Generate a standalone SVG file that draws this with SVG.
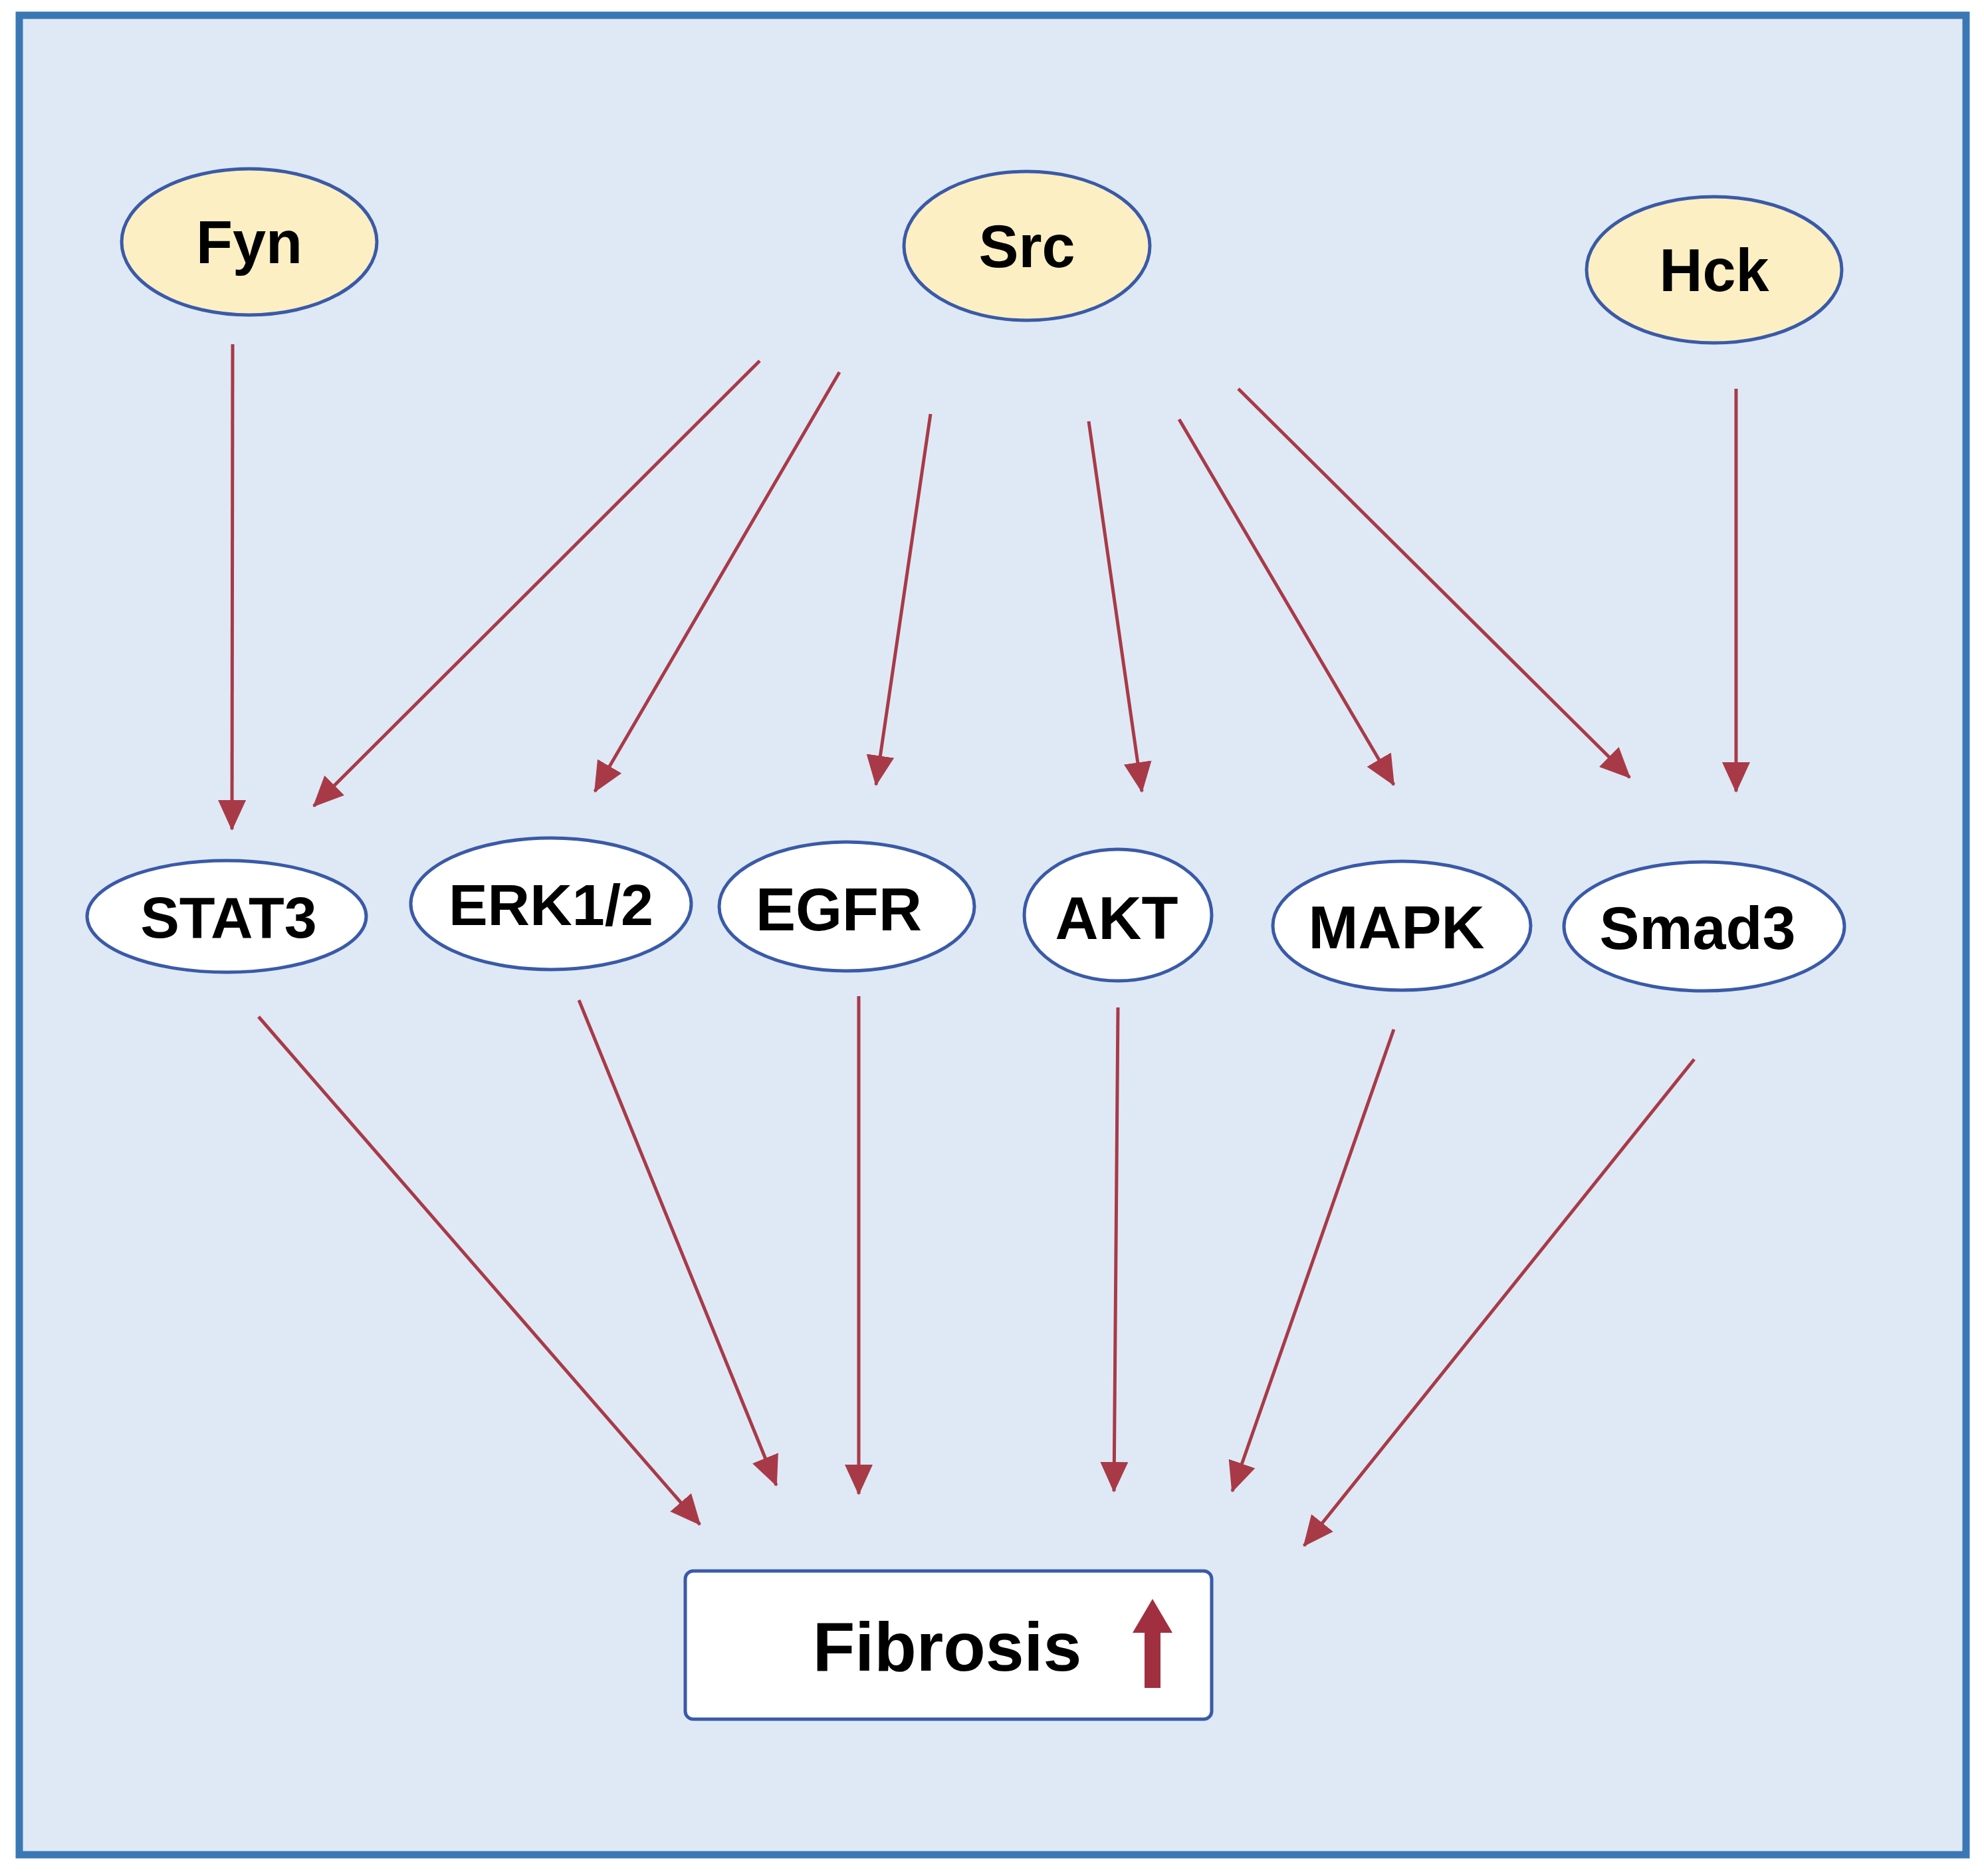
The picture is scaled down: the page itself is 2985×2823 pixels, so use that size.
<svg xmlns="http://www.w3.org/2000/svg" width="2985" height="2823" viewBox="0 0 2985 2823">
<style>
.k{fill:#fdefc4;stroke:#3a5aa8;stroke-width:5}
.t{fill:#fff;stroke:#3a5aa8;stroke-width:5}
text{font-family:"Liberation Sans",Arial,sans-serif;font-weight:bold;fill:#000;text-anchor:middle}
.c line{stroke:#a83a48;stroke-width:5;marker-end:url(#ah)}
</style>
<defs>
<marker id="ah" markerUnits="userSpaceOnUse" markerWidth="46" markerHeight="42" refX="44" refY="21" orient="auto">
<path d="M0,0 L46,21 L0,42 Z" fill="#a83a48"/>
</marker>
</defs>
<rect x="29" y="23" width="2929" height="2768" fill="#dfe9f5" stroke="#3a78b5" stroke-width="11"/>
<g id="Fyn"><ellipse class="k" cx="375" cy="364" rx="192" ry="110"/><text x="375" y="396" font-size="90">Fyn</text></g>
<g id="Src"><ellipse class="k" cx="1545" cy="370" rx="185" ry="112"/><text x="1545" y="402" font-size="90">Src</text></g>
<g id="Hck"><ellipse class="k" cx="2579" cy="406" rx="192" ry="110"/><text x="2579" y="438" font-size="90">Hck</text></g>
<g id="STAT3"><ellipse class="t" cx="341" cy="1379" rx="210" ry="84"/><text x="344" y="1411" font-size="88">STAT3</text></g>
<g id="ERK"><ellipse class="t" cx="829" cy="1360" rx="211" ry="99"/><text x="829" y="1392" font-size="88">ERK1/2</text></g>
<g id="EGFR"><ellipse class="t" cx="1274" cy="1364" rx="192" ry="97"/><text x="1262" y="1400" font-size="90">EGFR</text></g>
<g id="AKT"><ellipse class="t" cx="1682" cy="1377" rx="141" ry="99"/><text x="1680" y="1413" font-size="90">AKT</text></g>
<g id="MAPK"><ellipse class="t" cx="2109" cy="1393" rx="194" ry="97"/><text x="2101" y="1427" font-size="90">MAPK</text></g>
<g id="Smad3"><ellipse class="t" cx="2564" cy="1394" rx="211" ry="97"/><text x="2554" y="1428" font-size="90">Smad3</text></g>
<g id="Fibrosis"><rect x="1031" y="2364" width="792" height="223" rx="12" fill="#fff" stroke="#3a5aa8" stroke-width="5"/>
<text x="1425" y="2514" font-size="104">Fibrosis</text>
<path d="M1734,2406 L1764,2457 L1746,2457 L1746,2540 L1722,2540 L1722,2457 L1704,2457 Z" fill="#a03040"/></g>
<g class="c" id="connectors">
<line x1="350" y1="518" x2="349" y2="1248"/>
<line x1="1143" y1="543" x2="472" y2="1213"/>
<line x1="1263" y1="560" x2="895" y2="1191"/>
<line x1="1400" y1="623" x2="1318" y2="1181"/>
<line x1="1638" y1="634" x2="1718" y2="1191"/>
<line x1="1774" y1="631" x2="2097" y2="1181"/>
<line x1="1863" y1="585" x2="2452" y2="1170"/>
<line x1="2612" y1="585" x2="2612" y2="1191"/>
<line x1="389" y1="1530" x2="1053" y2="2294"/>
<line x1="871" y1="1505" x2="1168" y2="2235"/>
<line x1="1292" y1="1499" x2="1292" y2="2248"/>
<line x1="1682" y1="1516" x2="1676" y2="2244"/>
<line x1="2097" y1="1549" x2="1854" y2="2244"/>
<line x1="2549" y1="1594" x2="1962" y2="2326"/>
</g>
</svg>
